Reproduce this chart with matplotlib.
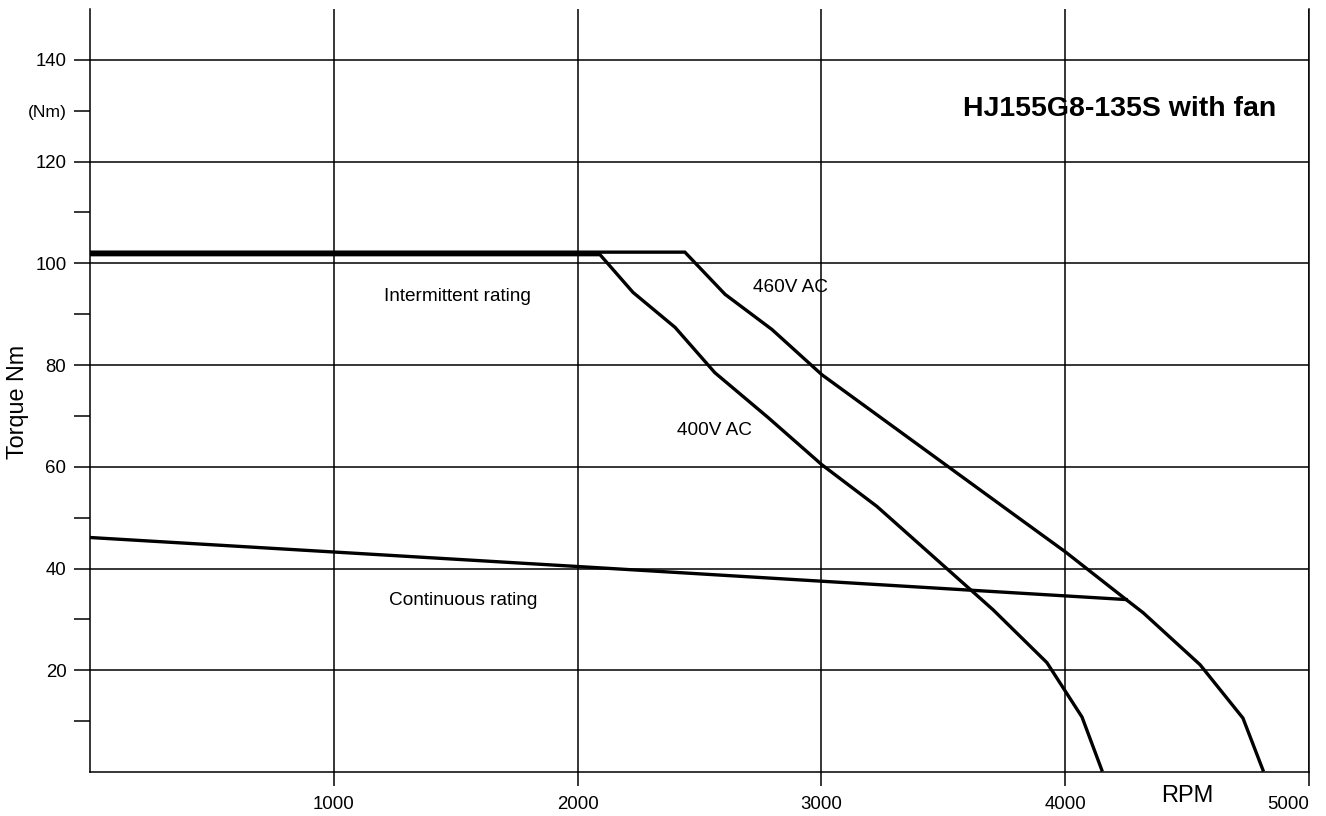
import matplotlib
matplotlib.use("Agg")
import matplotlib.pyplot as plt
from matplotlib.ticker import FixedLocator

plt.rcParams['font.family'] = ['Liberation Sans', 'DejaVu Sans']

# ---- data ----
rpm_400 = [0, 2092, 2227, 2400, 2563, 2781, 3002, 3228, 3704, 3925, 4069, 4150]
trq_400 = [101.7, 101.7, 94.3, 87.4, 78.5, 69.7, 60.4, 52.2, 31.9, 21.5, 10.8, 0.4]

rpm_460 = [0, 2440, 2605, 2797, 3002, 3773, 4000, 4250, 4320, 4553, 4729, 4811]
trq_460 = [102.2, 102.2, 93.9, 87.0, 78.1, 51.2, 43.3, 33.9, 31.3, 21.1, 10.6, 0.4]

rpm_cont = [0, 2000, 4250]
trq_cont = [46.1, 40.4, 33.9]

x_ticks = [1000, 2000, 3000, 4000, 5000]
y_major = [20, 40, 60, 80, 100, 120, 140]
y_minor = [10, 30, 50, 70, 90, 110, 130]
y_minor_labels = ['', '', '', '', '', '', '(Nm)']

title = 'HJ155G8-135S with fan'

# ---- figure ----
W, H = 1326, 816
fig = plt.figure(figsize=(W / 100, H / 100), dpi=100)
ax = fig.add_axes([90 / W, (H - 772) / H, (1309 - 90) / W, (772 - 9) / H])

ax.set_xlim(0, 5000)
ax.set_ylim(0, 150)

lw = 2.4
ax.plot(rpm_400, trq_400, color='black', lw=lw, solid_joinstyle='miter', zorder=3)
ax.plot(rpm_460, trq_460, color='black', lw=lw, solid_joinstyle='miter', zorder=3)
ax.plot(rpm_cont, trq_cont, color='black', lw=lw, zorder=3)

# ticks
ax.xaxis.set_major_locator(FixedLocator(x_ticks))
ax.set_xticklabels([str(v) for v in x_ticks])
ax.yaxis.set_major_locator(FixedLocator(y_major))
ax.set_yticklabels([str(v) for v in y_major])
ax.yaxis.set_minor_locator(FixedLocator(y_minor))
ax.set_yticklabels(y_minor_labels, minor=True)

ax.tick_params(axis='x', which='major', direction='out', length=10, width=1.1,
               labelsize=13.4, pad=7, colors='black')
ax.tick_params(axis='y', which='major', direction='out', length=11.5, width=1.1,
               labelsize=13.4, pad=5.5, colors='black')
ax.tick_params(axis='y', which='minor', direction='out', length=11.5, width=1.1,
               labelsize=12.6, pad=5.5, colors='black')

# last x label sits to the left of its tick, as in the reference
ax.get_xticklabels()[-1].set_horizontalalignment('right')

ax.grid(True, which='major', color='black', lw=1.1)
ax.set_axisbelow(True)

for s in ['left', 'bottom', 'right']:
    ax.spines[s].set_linewidth(1.1)
    ax.spines[s].set_color('black')
ax.spines['top'].set_visible(False)

# annotations
ax.text(4223, 128.9, title, fontsize=20.5, fontweight='bold', ha='center', va='baseline')
ax.text(1509, 92.5, 'Intermittent rating', fontsize=13.7, ha='center', va='baseline')
ax.text(1532, 32.9, 'Continuous rating', fontsize=13.7, ha='center', va='baseline')
ax.text(2875, 94.3, '460V AC', fontsize=13.7, ha='center', va='baseline')
ax.text(2562, 66.3, '400V AC', fontsize=13.7, ha='center', va='baseline')

fig.text(18 / W, 1 - 402 / H, 'Torque Nm', fontsize=16.8, rotation=90, ha='center', va='center')
fig.text(1187 / W, 1 - 802 / H, 'RPM', fontsize=17, ha='center', va='baseline')

fig.savefig('out.png', dpi=100)
